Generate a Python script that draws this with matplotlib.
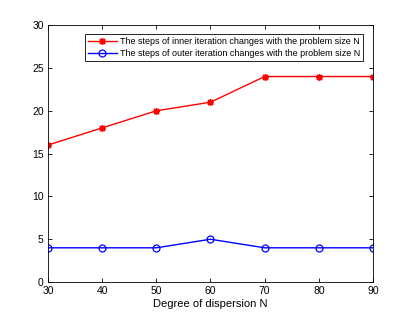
import matplotlib
matplotlib.use("Agg")
import matplotlib.pyplot as plt

N = [30, 40, 50, 60, 70, 80, 90]
inner_steps = [16, 18, 20, 21, 24, 24, 24]
outer_steps = [4, 4, 4, 5, 4, 4, 4]
inner_label = "The steps of inner iteration changes with the problem size N"
outer_label = "The steps of outer iteration changes with the problem size N"
xticks = [30, 40, 50, 60, 70, 80, 90]
yticks = [0, 5, 10, 15, 20, 25, 30]

plt.rcParams['font.family'] = ['Liberation Sans', 'DejaVu Sans']

fig = plt.figure(figsize=(4.05, 3.18), dpi=100)
ax = fig.add_axes([0.1185, 0.113, 0.8025, 0.808])
ax.plot(N, inner_steps, color='red', marker=(8, 2, 0), markersize=5, markeredgewidth=1.0,
        linewidth=1.0, label=inner_label)
ax.plot(N, outer_steps, color='blue', marker='o', markersize=5, markerfacecolor='none',
        markeredgewidth=0.9, linewidth=1.0, label=outer_label)
ax.set_xlim(30, 90)
ax.set_ylim(0, 30)
ax.set_xticks(xticks)
ax.set_yticks(yticks)
ax.tick_params(direction='in', top=True, right=True, labelsize=7.5, length=3, width=0.6, pad=3)
for s in ax.spines.values():
    s.set_linewidth(0.6)
ax.set_xlabel("Degree of dispersion N", fontsize=8, labelpad=2)
leg = ax.legend(loc='upper right', bbox_to_anchor=(0.97, 0.965), fontsize=6.45, fancybox=False,
                framealpha=1, edgecolor='black', borderpad=0.3, labelspacing=0.35,
                handlelength=3.2, handletextpad=0.4, borderaxespad=0)
leg.get_frame().set_linewidth(0.6)
fig.savefig("out.png", dpi=100)
